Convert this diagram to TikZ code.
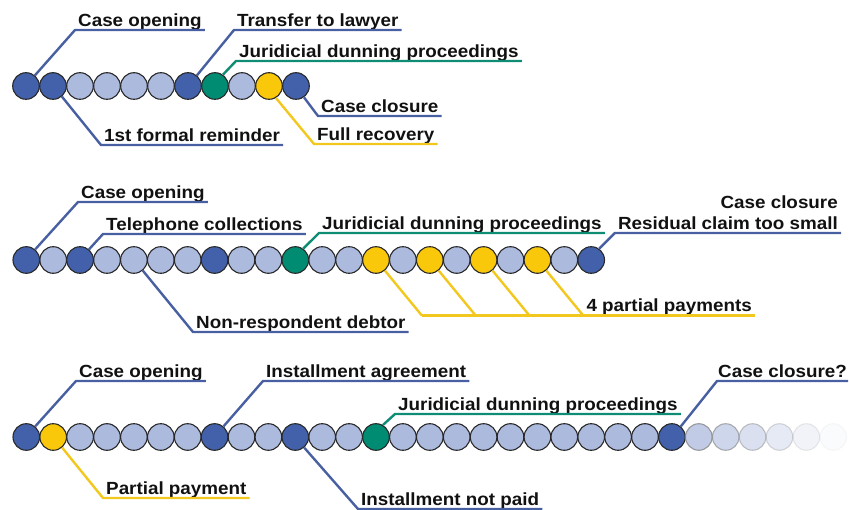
\documentclass[tikz,border=0pt]{standalone}
\usepackage{fontspec}
\usepackage{tikz}
\usetikzlibrary{positioning, calc}
\usepackage{xcolor}
\newfontfamily\lblfont[FakeStretch=1.07]{Liberation Sans}
\definecolor{cDark}{RGB}{66, 97, 170}
\definecolor{cLight}{RGB}{172, 186, 222}
\definecolor{cJur}{RGB}{0, 140, 114}
\definecolor{cPay}{RGB}{250, 200, 10}
\definecolor{bDark}{RGB}{72, 96, 162}
\definecolor{bJur}{RGB}{14, 140, 116}
\definecolor{bPay}{RGB}{242, 200, 30}
\definecolor{tDark}{RGB}{17, 17, 17}

\begin{document}
\begin{tikzpicture}[
    x=1pt, y=-1pt,
    font=\lblfont\bfseries\fontsize{17.6}{21}\selectfont,
    dot/.style={
        circle,
        draw=tDark!90,
        line width=1.1pt,
        fill=#1,
        minimum size=26.6pt,
        inner sep=0pt
    },
    lead/.style={draw=#1, line width=2.4pt},
    lbl/.style={
        text=tDark,
        anchor=south west,
        inner xsep=3pt,
        inner ysep=0pt,
        text depth=3.5pt
    }
]

\useasboundingbox (0,0) rectangle (849,510);

% Case 1: full recovery
\foreach \c [count=\i] in {cDark,cDark,cLight,cLight,cLight,cLight,cDark,cJur,cLight,cPay,cDark}
    \node[dot=\c] (a\i) at ({26+27*(\i-1)},86) {};

\node[lbl] (open1) at (75,30) {Case opening};
\node[lbl] (lawyer1) at (234,30) {Transfer to lawyer};
\node[lbl] (jur1) at (236,61) {Juridicial dunning proceedings};
\node[lbl] (close1) at (318,116) {Case closure};
\node[lbl] (full1) at (314,144) {Full recovery};
\node[lbl] (remind1) at (101,145) {1st formal reminder};

\draw[lead=bDark] (a1.50) -- (open1.south west) -- (open1.south east);
\draw[lead=bDark] (a7.50) -- (lawyer1.south west) -- (lawyer1.south east);
\draw[lead=bJur] (a8.55) -- (jur1.south west) -- (jur1.south east);
\draw[lead=bDark] (a11.-55) -- (close1.south west) -- (close1.south east);
\draw[lead=bPay] (a10.-60) -- (full1.south west) -- (full1.south east);
\draw[lead=bDark] (a2.-50) -- (remind1.south west) -- (remind1.south east);

% Case 2: partial payments, residual claim
\foreach \c [count=\i] in {cDark,cLight,cDark,cLight,cLight,cLight,cLight,cDark,cLight,cLight,cJur,
                           cLight,cLight,cPay,cLight,cPay,cLight,cPay,cLight,cPay,cLight,cDark}
    \node[dot=\c] (b\i) at ({26.3+26.9*(\i-1)},260) {};

\node[lbl] (open2) at (78,202) {Case opening};
\node[lbl] (phone2) at (103,234) {Telephone collections};
\node[lbl] (jur2) at (319,233) {Juridicial dunning proceedings};
\node[lbl, anchor=south east, align=right] (close2) at (841,233) {Case closure\\Residual claim too small};
\node[lbl] (debtor2) at (193,332) {Non-respondent debtor};

\draw[lead=bDark] (b1.50) -- (open2.south west) -- (open2.south east);
\draw[lead=bDark] (b3.50) -- (phone2.south west) -- (phone2.south east);
\draw[lead=bJur] (b11.55) -- (jur2.south west) -- (jur2.south east);
\draw[lead=bDark] (b22.55) -- (close2.south west) -- (close2.south east);
\draw[lead=bDark] (b5.-50) -- (debtor2.south west) -- (debtor2.south east);

\foreach \k in {14,16,18,20}
    \draw[lead=bPay] (b\k.-50) -- ++(37,45) coordinate (f\k);
\node[lbl] (pay2) at (f20) {4 partial payments};
\draw[lead=bPay] (f14) -- (pay2.south east);

% Case 3: installment agreement, open end
\foreach \c [count=\i] in {cDark,cPay,cLight,cLight,cLight,cLight,cLight,cDark,cLight,cLight,cDark,cLight,cLight,cJur,
                           cLight,cLight,cLight,cLight,cLight,cLight,cLight,cLight,cLight,cLight,cDark}
    \node[dot=\c] (c\i) at ({26.3+26.9*(\i-1)},437) {};
\foreach \o [count=\i from 26] in {0.75,0.6,0.45,0.3,0.17,0.06}
    \node[dot=cLight, draw=gray, opacity=\o] (c\i) at ({26.3+26.9*(\i-1)},437) {};

\node[lbl] (open3) at (76,381) {Case opening};
\node[lbl] (agree3) at (263,381) {Installment agreement};
\node[lbl] (jur3) at (395,414) {Juridicial dunning proceedings};
\node[lbl, inner xsep=1pt] (close3) at (717,381) {Case closure?};
\node[lbl] (pay3) at (103,498) {Partial payment};
\node[lbl] (unpaid3) at (358,509) {Installment not paid};

\draw[lead=bDark] (c1.50) -- (open3.south west) -- (open3.south east);
\draw[lead=bDark] (c8.50) -- (agree3.south west) -- (agree3.south east);
\draw[lead=bJur] (c14.60) -- (jur3.south west) -- (jur3.south east);
\draw[lead=bDark] (c25.50) -- (close3.south west) -- (close3.south east);
\draw[lead=bPay] (c2.-50) -- (pay3.south west) -- (pay3.south east);
\draw[lead=bDark] (c11.-50) -- (unpaid3.south west) -- (unpaid3.south east);

\end{tikzpicture}
\end{document}
